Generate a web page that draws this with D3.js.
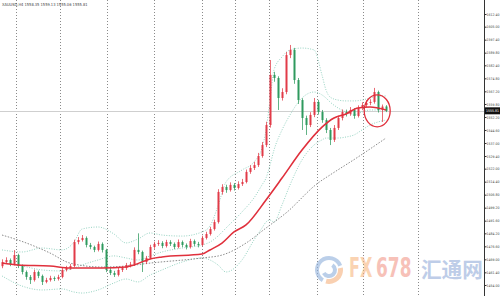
<!DOCTYPE html>
<html>
<head>
<meta charset="utf-8">
<script src="https://cdnjs.cloudflare.com/ajax/libs/d3/7.8.5/d3.min.js"></script>
<style>
  html, body { margin: 0; padding: 0; background: #fff; }
  svg { display: block; }
</style>
</head>
<body>
<div id="chart"></div>
<script>
// XAUUSD H4 candles (index = bar number from the left)
const opens = [1465.0, 1467.4, 1468.6, 1466.3, 1471.5, 1465.1, 1461.6, 1458.7, 1456.9, 1461.6,
  1459.3, 1455.8, 1456.9, 1458.1, 1457.5, 1458.7, 1462.8, 1463.9, 1465.1, 1479.1,
  1480.3, 1481.5, 1477.4, 1476.2, 1474.5, 1478.0, 1474.5, 1462.8, 1461.0, 1459.9,
  1462.8, 1463.9, 1465.7, 1466.0, 1474.5, 1473.3, 1467.4, 1469.8, 1476.2, 1478.0,
  1478.6, 1476.8, 1479.1, 1478.0, 1476.2, 1479.1, 1477.4, 1476.2, 1479.7, 1478.0,
  1477.4, 1481.5, 1483.8, 1486.7, 1490.8, 1508.4, 1511.3, 1509.5, 1512.5, 1510.7,
  1513.0, 1514.2, 1520.1, 1522.4, 1524.1, 1529.4, 1535.8, 1547.5, 1576.8, 1575.0,
  1563.3, 1566.8, 1588.4, 1591.4, 1573.8, 1562.1, 1551.6, 1547.5, 1553.4, 1561.0,
  1555.1, 1550.4, 1544.6, 1538.8, 1545.8, 1551.6, 1555.1, 1554.0, 1556.3, 1552.8,
  1557.5, 1559.2, 1560.4, 1561.0, 1566.8, 1556.3, 1558.35];
const highs = [1469.0, 1470.2, 1469.5, 1474.4, 1472.3, 1466.0, 1462.5, 1459.8, 1463.0, 1462.4,
  1460.1, 1458.2, 1459.4, 1459.0, 1460.0, 1464.0, 1465.2, 1466.3, 1480.5, 1482.0,
  1483.2, 1482.4, 1478.6, 1477.0, 1479.4, 1478.9, 1475.2, 1464.0, 1462.3, 1464.1,
  1465.0, 1466.9, 1467.5, 1476.0, 1484.2, 1474.1, 1471.0, 1477.5, 1479.3, 1480.2,
  1479.6, 1480.4, 1480.2, 1478.9, 1480.6, 1480.0, 1478.3, 1481.0, 1480.6, 1479.2,
  1482.8, 1485.1, 1488.0, 1492.2, 1510.0, 1512.9, 1512.6, 1514.0, 1513.6, 1514.6,
  1516.0, 1521.5, 1524.0, 1526.0, 1531.2, 1537.6, 1549.4, 1585.5, 1578.6, 1576.0,
  1569.0, 1590.2, 1594.3, 1592.6, 1575.0, 1563.2, 1553.0, 1555.0, 1563.3, 1562.2,
  1556.3, 1551.5, 1545.8, 1547.5, 1553.0, 1556.6, 1556.5, 1558.0, 1557.4, 1559.0,
  1560.8, 1562.0, 1562.6, 1569.2, 1567.6, 1559.5, 1559.13];
const lows = [1463.8, 1466.5, 1465.0, 1465.5, 1463.9, 1460.2, 1457.1, 1454.6, 1456.0, 1458.0,
  1454.0, 1455.0, 1456.0, 1456.3, 1456.6, 1457.9, 1461.9, 1462.8, 1464.4, 1477.8,
  1479.4, 1476.0, 1474.9, 1473.2, 1473.6, 1473.0, 1461.5, 1459.8, 1458.7, 1459.0,
  1461.6, 1462.8, 1464.3, 1465.2, 1472.0, 1461.6, 1466.2, 1469.0, 1475.1, 1476.9,
  1475.5, 1475.9, 1476.8, 1475.0, 1475.4, 1476.1, 1474.8, 1475.3, 1476.7, 1476.0,
  1476.6, 1480.6, 1482.9, 1485.8, 1489.9, 1506.8, 1507.9, 1508.6, 1509.2, 1509.8,
  1511.9, 1513.4, 1519.0, 1521.2, 1523.0, 1528.4, 1534.6, 1546.0, 1572.8, 1556.3,
  1561.8, 1565.5, 1586.6, 1571.6, 1559.8, 1544.6, 1541.7, 1546.3, 1552.1, 1553.6,
  1548.8, 1542.8, 1535.8, 1537.6, 1544.6, 1550.2, 1552.5, 1552.9, 1551.2, 1551.9,
  1556.2, 1558.0, 1559.1, 1560.0, 1554.8, 1549.3, 1555.06];
const closes = [1467.4, 1468.6, 1466.3, 1471.5, 1465.1, 1461.6, 1458.7, 1456.9, 1461.6, 1459.3,
  1455.8, 1456.9, 1458.1, 1457.5, 1458.7, 1462.8, 1463.9, 1465.1, 1479.1, 1480.3,
  1481.5, 1477.4, 1476.2, 1474.5, 1478.0, 1474.5, 1462.8, 1461.0, 1459.9, 1462.8,
  1463.9, 1465.7, 1466.0, 1474.5, 1473.3, 1467.4, 1469.8, 1476.2, 1478.0, 1478.6,
  1476.8, 1479.1, 1478.0, 1476.2, 1479.1, 1477.4, 1476.2, 1479.7, 1478.0, 1477.4,
  1481.5, 1483.8, 1486.7, 1490.8, 1508.4, 1511.3, 1509.5, 1512.5, 1510.7, 1513.0,
  1514.2, 1520.1, 1522.4, 1524.1, 1529.4, 1535.8, 1547.5, 1576.8, 1575.0, 1563.3,
  1566.8, 1588.4, 1591.4, 1573.8, 1562.1, 1551.6, 1547.5, 1553.4, 1561.0, 1555.1,
  1550.4, 1544.6, 1538.8, 1545.8, 1551.6, 1555.1, 1554.0, 1556.3, 1552.8, 1557.5,
  1559.2, 1560.4, 1561.0, 1566.8, 1556.3, 1558.3, 1555.81];

// moving average (red)
const maBars = [0, 4, 12, 17, 25, 31, 33, 37, 40, 50, 52, 55, 58, 61, 66, 70, 75, 80, 83, 86, 89, 92, 96];
const maVals = [1466.9, 1465.7, 1465.1, 1463.9, 1463.9, 1464.5, 1465.7, 1469.2, 1470.4, 1472.1, 1474.5, 1478.5,
  1485.0, 1489.1, 1503.7, 1516.5, 1532.9, 1546.3, 1551.6, 1554.0, 1557.5, 1558.0, 1556.3];

// slow moving average (grey dotted)
const slowBars = [0, 4, 12, 17, 25, 31, 37, 50, 55, 61, 66, 71, 79, 82, 89, 96];
const slowVals = [1483.2, 1480.3, 1472.7, 1466.8, 1464.5, 1465.1, 1466.8, 1469.8, 1471.5, 1478.5,
  1487.3, 1496.1, 1513.6, 1518.3, 1528.8, 1539.9];

// bollinger bands
const bandBars = [0, 5, 10, 15, 18, 20, 24, 28, 31, 34, 37, 40, 45, 50, 52, 54, 56, 60, 63, 65, 66, 67, 68,
  70, 72, 75, 78, 80, 81, 82, 84, 86, 88, 90, 92, 94, 96];
const bandUpper = [1474.5, 1473.3, 1475.6, 1474.5, 1479.1, 1486.7, 1487.9, 1483.8, 1478.6, 1480.9, 1484.4,
  1483.2, 1482.6, 1485.0, 1488.5, 1500.2, 1514.2, 1521.2, 1525.9, 1534.1, 1544.6, 1562.1, 1579.7,
  1587.3, 1591.4, 1592.5, 1591.4, 1576.7, 1568.0, 1563.9, 1562.1, 1561.6, 1561.6, 1562.1, 1563.3, 1564.5, 1564.5];
const bandMiddle = [1466.9, 1465.1, 1462.8, 1462.2, 1463.9, 1465.7, 1468.6, 1471.0, 1469.8, 1468.6, 1471.0,
  1473.3, 1475.6, 1477.4, 1479.1, 1482.6, 1487.3, 1496.7, 1504.9, 1512.5, 1516.5, 1524.1, 1532.9,
  1544.6, 1553.4, 1563.3, 1566.8, 1565.1, 1563.3, 1561.0, 1557.5, 1555.1, 1553.4, 1555.1, 1556.3, 1556.3, 1556.3];
const bandLower = [1459.3, 1453.4, 1451.1, 1451.7, 1449.9, 1449.3, 1451.1, 1455.2, 1457.5, 1455.8, 1459.8,
  1462.8, 1467.4, 1469.8, 1468.6, 1465.7, 1461.6, 1468.6, 1480.3, 1487.3, 1490.8, 1492.0, 1490.8,
  1500.8, 1512.5, 1527.1, 1535.8, 1538.8, 1539.9, 1539.9, 1539.9, 1540.5, 1541.7, 1544.6, 1547.5, 1549.3, 1550.4];

// period separators (bar positions) and price scale labels
const separators = [3.5, 14.5, 26.3, 38, 50, 58.3, 66.8, 78.8, 90.3, 104];
const priceTicks = [1612.40, 1605.00, 1597.40, 1589.80, 1582.40, 1574.80, 1567.20, 1559.80, 1552.20,
  1544.60, 1537.00, 1529.40, 1522.00, 1514.40, 1506.80, 1499.20, 1491.60, 1484.20, 1476.60,
  1469.00, 1461.40, 1454.00];
const lastPrice = 1555.81;
const title = "XAUUSD,H4  1558.35 1559.13 1555.06 1555.81";

const W = 500, H = 296, axisX = 484;
const upColor = "#e23b48", downColor = "#2f9a5e";
const smallFont = "'DejaVu Sans Condensed', 'Liberation Sans', sans-serif";

const svg = d3.select("#chart").append("svg")
  .attr("width", W).attr("height", H);

svg.append("rect").attr("width", W).attr("height", H).attr("fill", "#fff");

const x = d3.scaleLinear().domain([0, 96]).range([2, 386]);
const y = d3.scaleLinear().domain([1454.0, 1612.4]).range([285, 14]);

// separators
svg.append("g").selectAll("line")
  .data(separators)
  .join("line")
  .attr("x1", d => Math.round(x(d)) + 0.5).attr("x2", d => Math.round(x(d)) + 0.5)
  .attr("y1", 0).attr("y2", H)
  .attr("stroke", "#8a8a8a").attr("stroke-width", 1)
  .attr("stroke-dasharray", "1,2");

// last price line
svg.append("line")
  .attr("x1", 0).attr("x2", axisX)
  .attr("y1", Math.round(y(lastPrice)) + 0.5).attr("y2", Math.round(y(lastPrice)) + 0.5)
  .attr("stroke", "#cfcfcf").attr("stroke-width", 1);

const line = d3.line().x(d => x(d[0])).y(d => y(d[1])).curve(d3.curveMonotoneX);

// bollinger bands
[bandUpper, bandMiddle, bandLower].forEach(vals => {
  svg.append("path")
    .attr("d", line(bandBars.map((b, i) => [b, vals[i]])))
    .attr("fill", "none").attr("stroke", "#96d3c2").attr("stroke-width", 1)
    .attr("stroke-dasharray", "1,1.5");
});

// slow MA
svg.append("path")
  .attr("d", line(slowBars.map((b, i) => [b, slowVals[i]])))
  .attr("fill", "none").attr("stroke", "#8c8c8c").attr("stroke-width", 1)
  .attr("stroke-dasharray", "1.5,1.5");

// candles
const candles = closes.map((c, i) => ({ i, o: opens[i], h: highs[i], l: lows[i], c }));
const cg = svg.append("g");
cg.selectAll("line.wick")
  .data(candles)
  .join("line")
  .attr("class", "wick")
  .attr("x1", d => Math.round(x(d.i)) + 0.5).attr("x2", d => Math.round(x(d.i)) + 0.5)
  .attr("y1", d => y(d.h)).attr("y2", d => y(d.l))
  .attr("stroke", d => d.c >= d.o ? upColor : downColor)
  .attr("stroke-width", 1).attr("opacity", 0.75);
cg.selectAll("rect.body")
  .data(candles)
  .join("rect")
  .attr("class", "body")
  .attr("x", d => Math.round(x(d.i)) - 0.5)
  .attr("width", 2)
  .attr("y", d => y(Math.max(d.o, d.c)))
  .attr("height", d => Math.max(1, Math.abs(y(d.o) - y(d.c))))
  .attr("fill", d => d.c >= d.o ? upColor : downColor);

// red MA
svg.append("path")
  .attr("d", line(maBars.map((b, i) => [b, maVals[i]])))
  .attr("fill", "none").attr("stroke", "#e0303c").attr("stroke-width", 1.6);

// watermark
const wm = svg.append("g").attr("opacity", 0.6);
const logo = wm.append("g").attr("transform", "translate(329,270)");
logo.append("path").attr("d", d3.arc()({ innerRadius: 10, outerRadius: 14, startAngle: -2.6, endAngle: 1.2 }))
  .attr("fill", "#8fb0dc");
logo.append("path").attr("d", d3.arc()({ innerRadius: 4, outerRadius: 8, startAngle: 0.6, endAngle: 4.2 }))
  .attr("fill", "#8fb0dc");
logo.append("path").attr("d", d3.arc()({ innerRadius: 9, outerRadius: 14, startAngle: 1.4, endAngle: 3.4 }))
  .attr("fill", "#f6b27e");
const bigFont = "'DejaVu Sans Condensed', 'DejaVu Sans', sans-serif";
wm.append("text").attr("transform", "translate(349,277) scale(0.66,1)")
  .attr("font-family", bigFont).attr("font-weight", "bold").attr("font-size", 27)
  .attr("fill", "#f7b77f").text("FX");
wm.append("text").attr("transform", "translate(376,277) scale(0.7,1)")
  .attr("font-family", bigFont).attr("font-weight", "bold").attr("font-size", 27)
  .attr("fill", "#f2988a").text("678");
wm.append("text").attr("transform", "translate(421,277) scale(0.98,1)")
  .attr("font-family", "'Noto Sans CJK SC', sans-serif")
  .attr("font-weight", "bold").attr("font-size", 21)
  .attr("fill", "#93acd9").text("汇通网");

// right price axis
svg.append("rect").attr("x", axisX).attr("y", 0).attr("width", W - axisX).attr("height", H).attr("fill", "#fff");
const axis = d3.axisRight(y).tickValues(priceTicks).tickFormat(d3.format(".2f")).tickSize(2).tickPadding(1);
const ag = svg.append("g").attr("transform", `translate(${axisX + 0.5},0)`).call(axis);
ag.select(".domain").attr("stroke", "#333").attr("d", `M0,0V${H}`);
ag.selectAll(".tick line").attr("stroke", "#333");
ag.selectAll(".tick text")
  .attr("x", 499 - axisX).attr("text-anchor", "end")
  .attr("font-family", smallFont)
  .attr("font-size", 3.5).attr("fill", "#444");

// current price tag
const ly = y(lastPrice);
svg.append("rect").attr("x", axisX + 1).attr("y", ly - 3.5).attr("width", W - axisX - 1).attr("height", 7).attr("fill", "#111");
svg.append("text").attr("x", 499).attr("y", ly + 1.3)
  .attr("text-anchor", "end")
  .attr("font-family", smallFont)
  .attr("font-size", 3.5).attr("fill", "#fff")
  .text(lastPrice.toFixed(2));

// title
svg.append("text").attr("x", 2).attr("y", 6)
  .attr("font-family", smallFont)
  .attr("font-size", 4).attr("fill", "#444").text(title);

// highlight circle around last bars
svg.append("ellipse")
  .attr("cx", x(93.8)).attr("cy", y(lastPrice))
  .attr("rx", 13).attr("ry", 16)
  .attr("fill", "none").attr("stroke", "#e0303c").attr("stroke-width", 1.3);
</script>
</body>
</html>
